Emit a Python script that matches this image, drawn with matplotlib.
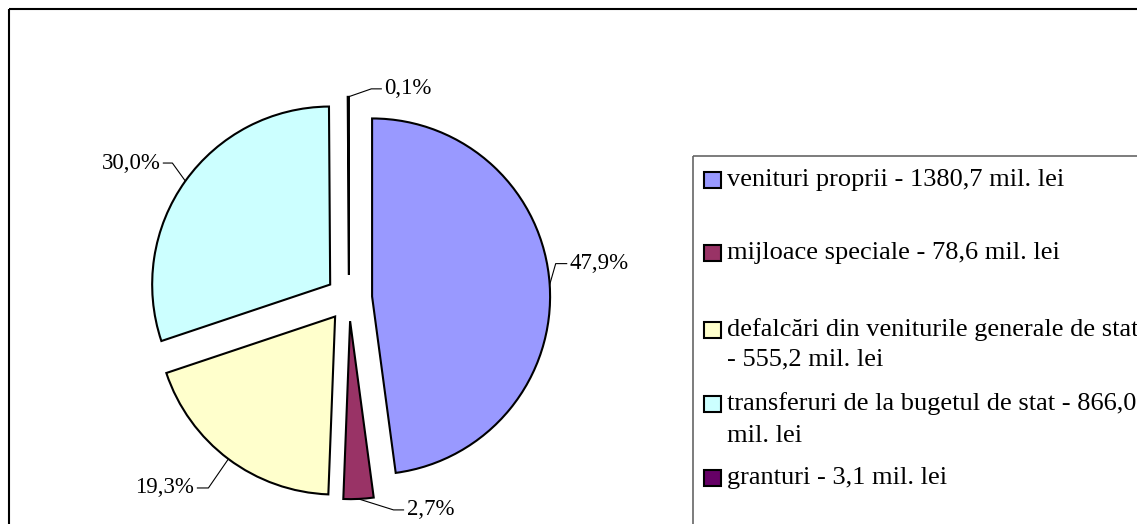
import numpy as np
import matplotlib
matplotlib.use("Agg")
import matplotlib.pyplot as plt
from matplotlib.patches import Rectangle

plt.rcParams['font.family'] = ['Liberation Serif', 'DejaVu Serif']

# date (mil. lei)
categorii = [
    "venituri proprii - 1380,7 mil. lei",
    "mijloace speciale - 78,6 mil. lei",
    "defalcări din veniturile generale de stat\n- 555,2 mil. lei",
    "transferuri de la bugetul de stat - 866,0\nmil. lei",
    "granturi - 3,1 mil. lei",
]
valori = [1380.7, 78.6, 555.2, 866.0, 3.1]
culori = ["#9999FF", "#993366", "#FFFFCC", "#CCFFFF", "#660066"]

W, H = 1137, 524
PX = 178.0          # pixeli pe unitate (raza pie)
CX, CY = 349, 298   # centrul pie in pixeli (de sus)

fig = plt.figure(figsize=(W / 100, H / 100), dpi=100)
ax = fig.add_axes([0, 0, 1, 1])

wedges, _ = ax.pie(valori, colors=culori, startangle=90, counterclock=False,
                   explode=[0.13] * len(valori), radius=1.0,
                   wedgeprops=dict(edgecolor='black', linewidth=1.5))

ax.set_xlim(-CX / PX, (W - CX) / PX)
ax.set_ylim(-(H - CY) / PX, CY / PX)
ax.set_aspect('auto')
ax.axis('off')

# etichete procentuale cu linii de legatura (decalaje in pixeli)
ofs = [(6, 21, 11), (35, -11, 10), (-20, -29, -11), (-13, 18, -9), (23, 8, 10)]
total = sum(valori)
for w, v, (ex, ey, hl) in zip(wedges, valori, ofs):
    mid = np.deg2rad((w.theta1 + w.theta2) / 2)
    x0 = w.center[0] + w.r * np.cos(mid)
    y0 = w.center[1] + w.r * np.sin(mid)
    x1, y1 = x0 + ex / PX, y0 + ey / PX
    x2 = x1 + hl / PX
    ax.plot([x0, x1, x2], [y0, y1, y1], color='black', lw=0.8)
    txt = f"{100 * v / total:.1f}%".replace('.', ',')
    ax.text(x2 + np.sign(hl) * 3 / PX, y1, txt, fontsize=16.5,
            ha='left' if hl > 0 else 'right', va='center')

# legenda desenata manual, in pixeli
lg = fig.add_axes([0, 0, 1, 1], zorder=3)
lg.set_xlim(0, W)
lg.set_ylim(H, 0)
lg.axis('off')
lg.patch.set_alpha(0)

leg_y = [180, 253, 330, 404, 478]
line_gap = [0, 0, 29, 32, 0]
lg.add_patch(Rectangle((693, 156), 600, 500, fill=False,
                       edgecolor='#666666', linewidth=1.2))
for lab, col, y, g in zip(categorii, culori, leg_y, line_gap):
    lg.add_patch(Rectangle((704, y - 8), 17, 16, facecolor=col,
                           edgecolor='black', linewidth=1.5))
    for j, line in enumerate(lab.split('\n')):
        lg.text(727, y + j * g, line, fontsize=19, ha='left', va='center')

# chenarul exterior
lg.add_patch(Rectangle((8.5, 8.5), 1300, 700, fill=False,
                       edgecolor='black', linewidth=1.5))

fig.savefig("out.png", dpi=100)
